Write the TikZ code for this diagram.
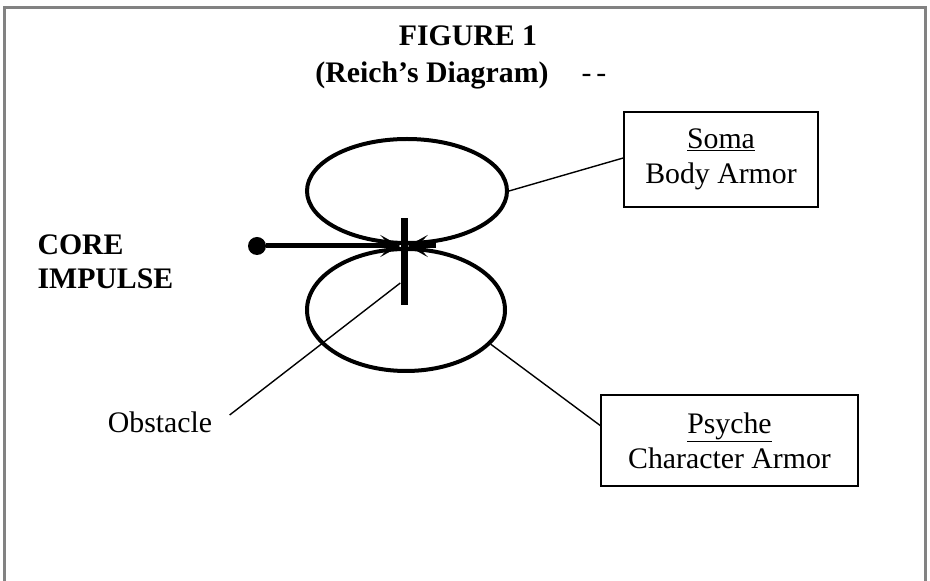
\documentclass[tikz,border=0pt]{standalone}
\usepackage{fontspec}
\setmainfont{Liberation Serif}
\usepackage{tikz}
\usetikzlibrary{arrows.meta,shapes.geometric}
\definecolor{FrameGray}{RGB}{130,130,130}

\begin{document}
\begin{tikzpicture}[
  x=1pt,y=1pt,
  every node/.style={font=\fontsize{29.8}{35}\selectfont},
  loop/.style={
    draw,ellipse,line width=4pt,inner sep=0pt
  },
  labelbox/.style={
    draw,line width=1.6pt,align=center,inner sep=0pt
  },
  lead/.style={line width=1.4pt},
  arr/.style={-{Stealth[length=20pt,width=22pt,inset=10pt]},line width=5pt}
]
  \useasboundingbox (0,0) rectangle (930,581);
  \draw[FrameGray,line width=3pt] (4,-5) -- (4,573) -- (925,573) -- (925,-5);

  % title
  \node[font=\fontsize{29.8}{35}\selectfont\bfseries] (fig) at (468,545) {FIGURE 1};
  \node[font=\fontsize{29.8}{35}\selectfont\bfseries] (reich) at (432,506) {(Reich's Diagram)};
  \node (dash) at (594,503) {-\hspace{5pt}-};

  % the two loops and the obstacle
  \node[loop,minimum width=200pt,minimum height=104pt] (upper) at (407,390) {};
  \node[loop,minimum width=198pt,minimum height=122pt] (lower) at (406,271) {};
  \node[fill=black,inner sep=0pt,minimum width=7pt,minimum height=87pt] (bar) at (404,319.5) {};

  % impulse
  \node[circle,fill=black,inner sep=0pt,minimum size=18pt] (src) at (257,335) {};
  \node[font=\fontsize{29.8}{34}\selectfont\bfseries,align=left,anchor=west] (core) at (34,319) {CORE\\IMPULSE};
  \coordinate (back) at (436,335);
  \draw[arr] (src) -- ([yshift=15.5pt]bar.west);
  \draw[arr] (back) -- ([yshift=15.5pt]bar.east);

  % labels
  \node[labelbox,minimum width=194pt,minimum height=95pt] (soma) at (721,421.5)
    {\underline{Soma}\\Body Armor};
  \node[labelbox,minimum width=257pt,minimum height=91pt] (psyche) at (729.5,140.5)
    {\underline{Psyche}\\Character Armor};
  \node (obst) at (160,159) {Obstacle};

  \draw[lead] ([yshift=1.5pt]soma.west) -- (upper.east);
  \draw[lead] ([yshift=15pt]psyche.west) -- (lower.-22);
  \draw[lead] ([shift={(14pt,7pt)}]obst.east) -- ([yshift=-21.5pt]bar.west);
\end{tikzpicture}
\end{document}
